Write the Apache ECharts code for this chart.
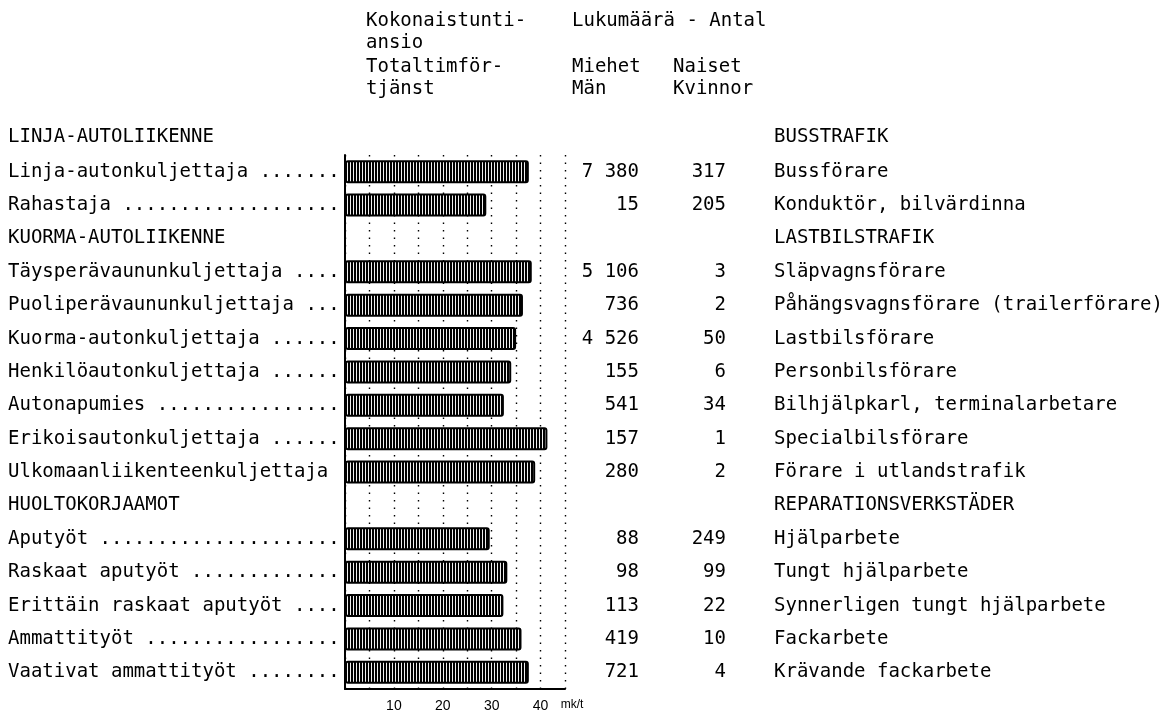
<!DOCTYPE html>
<html><head><meta charset="utf-8">
<script src="https://cdn.jsdelivr.net/npm/echarts@6/dist/echarts.min.js"></script>
<style>html,body{margin:0;padding:0;background:#fff}#c{width:1167px;height:711px}</style>
</head><body><div id="c"></div>
<script>
// ---- data ----
const rowLabelsFi = [
  'Linja-autonkuljettaja .......',
  'Rahastaja ...................',
  'KUORMA-AUTOLIIKENNE',
  'Täysperävaununkuljettaja ....',
  'Puoliperävaununkuljettaja ...',
  'Kuorma-autonkuljettaja ......',
  'Henkilöautonkuljettaja ......',
  'Autonapumies ................',
  'Erikoisautonkuljettaja ......',
  'Ulkomaanliikenteenkuljettaja',
  'HUOLTOKORJAAMOT',
  'Aputyöt .....................',
  'Raskaat aputyöt .............',
  'Erittäin raskaat aputyöt ....',
  'Ammattityöt .................',
  'Vaativat ammattityöt ........'
];
const rowLabelsSv = [
  'Bussförare',
  'Konduktör, bilvärdinna',
  'LASTBILSTRAFIK',
  'Släpvagnsförare',
  'Påhängsvagnsförare (trailerförare)',
  'Lastbilsförare',
  'Personbilsförare',
  'Bilhjälpkarl, terminalarbetare',
  'Specialbilsförare',
  'Förare i utlandstrafik',
  'REPARATIONSVERKSTÄDER',
  'Hjälparbete',
  'Tungt hjälparbete',
  'Synnerligen tungt hjälparbete',
  'Fackarbete',
  'Krävande fackarbete'
];
const earnings = [37.6, 28.9, null, 38.2, 36.4, 35.0, 34.0, 32.5, 41.4, 38.9, null, 29.6, 33.2, 32.4, 36.1, 37.6];
const menCount = [7380, 15, null, 5106, 736, 4526, 155, 541, 157, 280, null, 88, 98, 113, 419, 721];
const womenCount = [317, 205, null, 3, 2, 50, 6, 34, 1, 2, null, 249, 99, 22, 10, 4];
const xTickLabels = [10, 20, 30, 40];
const xUnit = 'mk/t';
const topHeadingFi = 'LINJA-AUTOLIIKENNE';
const topHeadingSv = 'BUSSTRAFIK';
const headerEarnings = ['Kokonaistunti-', 'ansio', 'Totaltimför-', 'tjänst'];
const headerCount = 'Lukumäärä - Antal';
const headerMen = ['Miehet', 'Män'];
const headerWomen = ['Naiset', 'Kvinnor'];

// ---- styling ----
const MONO = '"DejaVu Sans Mono", monospace';
const FS = 19;
function fmtNum(v) {
  if (v === null || v === undefined) return '';
  return String(v).replace(/\B(?=(\d{3})+(?!\d))/g, ' ');
}
const pc = document.createElement('canvas');
pc.width = 3; pc.height = 4;
const px = pc.getContext('2d');
px.fillStyle = '#f0f0f0'; px.fillRect(0, 0, 3, 4);
px.fillStyle = '#000000'; px.fillRect(0, 0, 2, 4);

const chart = echarts.init(document.getElementById('c'), null, {renderer: 'canvas'});
const textEl = (t, x, y) => ({type: 'text', x: x, y: y, style: {text: t, font: FS + 'px ' + MONO, fill: '#000', verticalAlign: 'middle'}});
const monoLabel = {fontFamily: MONO, fontSize: FS, color: '#000'};
const catAxisBase = {
  type: 'category', data: rowLabelsFi, inverse: true, gridIndex: 0,
  axisTick: {show: false}, splitLine: {show: false}
};
chart.setOption({
  animation: false,
  backgroundColor: '#fff',
  grid: {left: 345, right: 602, top: 155, bottom: 22, containLabel: false, outerBoundsMode: 'none'},
  xAxis: {
    type: 'value', min: 0, max: 45, interval: 5,
    axisLine: {show: true, lineStyle: {color: '#000', width: 2}},
    axisTick: {show: false},
    splitLine: {show: true, lineStyle: {type: [1.5, 6], color: '#000', width: 1.4}},
    axisLabel: {
      showMinLabel: true, showMaxLabel: true, margin: 10,
      fontFamily: 'Liberation Sans', fontSize: 14, color: '#000',
      formatter: function (v) {
        if (xTickLabels.indexOf(v) >= 0) return String(v);
        if (v === 45) return '{u|' + xUnit + '}';
        return '';
      },
      rich: {u: {fontFamily: 'Liberation Sans', fontSize: 12, color: '#000', padding: [0, 0, 0, 14]}}
    }
  },
  yAxis: [
    Object.assign({}, catAxisBase, {
      position: 'left',
      axisLine: {show: true, lineStyle: {color: '#000', width: 2}},
      axisLabel: Object.assign({}, monoLabel, {interval: 0, align: 'left', margin: 337})
    }),
    Object.assign({}, catAxisBase, {
      position: 'right', axisLine: {show: false},
      axisLabel: Object.assign({}, monoLabel, {interval: 0, align: 'right', margin: 74,
        formatter: (v, i) => fmtNum(menCount[i])})
    }),
    Object.assign({}, catAxisBase, {
      position: 'right', axisLine: {show: false},
      axisLabel: Object.assign({}, monoLabel, {interval: 0, align: 'right', margin: 161,
        formatter: (v, i) => fmtNum(womenCount[i])})
    }),
    Object.assign({}, catAxisBase, {
      position: 'right', axisLine: {show: false},
      axisLabel: Object.assign({}, monoLabel, {interval: 0, align: 'left', margin: 209,
        formatter: (v, i) => rowLabelsSv[i]})
    })
  ],
  series: [{
    type: 'bar', xAxisIndex: 0, yAxisIndex: 0,
    data: earnings, barWidth: 23,
    itemStyle: {color: {image: pc, repeat: 'repeat'}, borderColor: '#000', borderWidth: 2, borderRadius: 2}
  }],
  graphic: [
    textEl(topHeadingFi, 8, 137),
    textEl(topHeadingSv, 774, 137),
    textEl(headerEarnings[0], 366, 21),
    textEl(headerEarnings[1], 366, 43),
    textEl(headerEarnings[2], 366, 67),
    textEl(headerEarnings[3], 366, 89),
    textEl(headerCount, 572, 21),
    textEl(headerMen[0], 572, 67),
    textEl(headerMen[1], 572, 89),
    textEl(headerWomen[0], 673, 67),
    textEl(headerWomen[1], 673, 89)
  ]
});
</script></body></html>
